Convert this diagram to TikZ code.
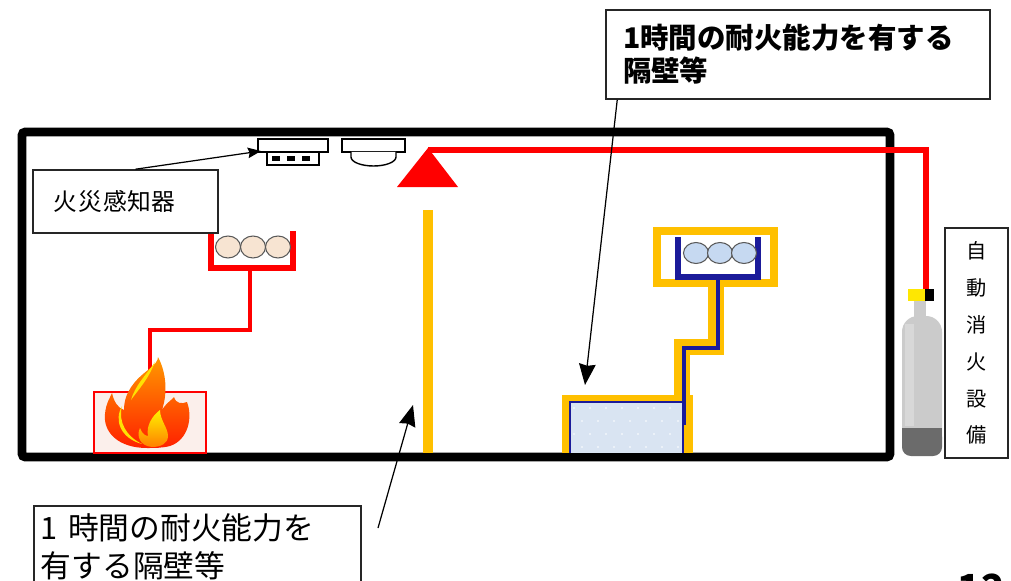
\documentclass[tikz,border=0pt]{standalone}
\usepackage{fontspec}
\newfontfamily\jp{Noto Sans CJK JP}
\usetikzlibrary{arrows.meta}

\definecolor{wallgold}{HTML}{FFC000}
\definecolor{pipered}{HTML}{FF0000}
\definecolor{pipeblue}{HTML}{1B1B9A}
\definecolor{headpeach}{HTML}{F7E4D2}
\definecolor{headblue}{HTML}{C6D9F1}
\definecolor{tankfill}{HTML}{D9E4F2}
\definecolor{firebg}{HTML}{FBEFEB}
\definecolor{gaslight}{HTML}{CBCBCB}
\definecolor{gasdark}{HTML}{6B6B6B}

\tikzset{
  labelbox/.style={draw=black!85, line width=0.9pt, fill=white, inner ysep=0pt},
  callout/.style={-{Stealth[length=12pt, width=9.5pt, inset=1pt]}, line width=0.7pt},
  smallcallout/.style={-{Stealth[length=7.5pt, width=6pt, inset=1pt]}, line width=0.7pt},
  headball/.style={draw=black!65, line width=0.6pt},
}

\begin{document}
\begin{tikzpicture}[x=0.02cm, y=-0.02cm]

  % ── frame: 1011 x 581 px, y runs downwards ──────────────────────────────
  \useasboundingbox (0,0) rectangle (1011,581);

  % ── room walls ───────────────────────────────────────────────────────────
  \draw[line width=5.1pt, rounded corners=2pt] (22,132) rectangle (890,457);

  % ── fire-rated partition ─────────────────────────────────────────────────
  \draw[wallgold, line width=5.7pt] (428,210) -- (428,453);

  % ── ceiling detectors ────────────────────────────────────────────────────
  \draw[line width=0.8pt, fill=white] (258,139) rectangle (328,152);
  \draw[line width=0.8pt, fill=white] (267,152) rectangle (319,165);
  \foreach \x in {276,291,306}
    \fill (\x-4,156) rectangle (\x+4,161);
  \draw[line width=0.8pt, fill=white] (342,139) rectangle (405,152);
  \draw[line width=0.8pt, fill=white]
    (351,152) -- (351,157) arc[start angle=180, end angle=360, x radius=22.5, y radius=-9] -- (396,152);

  % ── supply pipe from the cylinder to the discharge nozzle ────────────────
  \draw[pipered, line width=3.4pt] (428,150) -- (926,150) -- (926,292);
  \fill[pipered] (428,148) -- (458,187) -- (397,187) -- cycle;

  % ── extinguisher cylinder ────────────────────────────────────────────────
  \fill[gaslight] (914,299) rectangle (926,320);
  \fill[gaslight, rounded corners=9pt] (902,455) -- (902,316) -- (942,316) -- (942,455) -- cycle;
  \fill[white, opacity=0.25] (905,324) rectangle (914,426);
  \fill[gasdark, rounded corners=5pt] (902,428) -- (902,456) -- (942,456) -- (942,428) -- cycle;
  \fill[gasdark] (902,428) rectangle (942,436);
  \fill[yellow!90!orange] (908,289) rectangle (926,301);
  \fill[black] (925,289) rectangle (934,301);

  % ── fire with its sprinkler head on the left ─────────────────────────────
  \draw[pipered, line width=2pt] (250,268) -- (250,330) -- (150,330) -- (150,372);
  \draw[pipered, line width=3.8pt] (211,231) -- (211,268) -- (293,268) -- (293,231);
  \foreach \x in {228,253,278}
    \draw[headball, fill=headpeach] (\x,247) ellipse[x radius=12.5, y radius=11];

  \draw[pipered, line width=0.9pt, fill=firebg] (94,392) rectangle (206,453);
  \shade[top color=orange!80!yellow, bottom color=red!75!orange]
    (147,448) .. controls (118,448) and (103,432) .. (105,414)
    .. controls (106,403) and (110,398) .. (112,393)
    .. controls (114,402) and (118,408) .. (124,410)
    .. controls (124,392) and (135,380) .. (148,370)
    .. controls (156,364) and (158,360) .. (158,357)
    .. controls (166,372) and (168,392) .. (162,410)
    .. controls (167,402) and (172,400) .. (174,397)
    .. controls (176,404) and (182,404) .. (187,402)
    .. controls (193,418) and (188,440) .. (170,446)
    .. controls (162,448) and (155,448) .. (147,448) -- cycle;
  % yellow streak along the left edge
  \fill[yellow!85!orange]
    (142,444) .. controls (120,438) and (114,420) .. (122,406)
    .. controls (118,422) and (126,436) .. (142,444) -- cycle;
  \fill[yellow!85!orange]
    (131,400) .. controls (135,386) and (145,376) .. (155,362)
    .. controls (148,380) and (138,390) .. (131,400) -- cycle;
  % small inner flame
  \shade[top color=yellow!90!orange, bottom color=orange]
    (152,447) .. controls (140,446) and (136,436) .. (140,428)
    .. controls (142,434) and (146,436) .. (148,436)
    .. controls (146,426) and (152,416) .. (160,410)
    .. controls (160,420) and (168,428) .. (168,436)
    .. controls (168,444) and (160,447) .. (152,447) -- cycle;

  % ── tank and protected head on the right ─────────────────────────────────
  \draw[wallgold, line width=4.6pt] (657,231) rectangle (774,283);
  \draw[wallgold, line width=9pt] (716,283) -- (716,347) -- (682,347) -- (682,400);
  \fill[wallgold] (562,395) rectangle (693,453);
  \fill[tankfill] (570,402) rectangle (683,453);
  \begin{scope}
    \clip (570,402) rectangle (683,453);
    \foreach \i in {0,...,7}
      \foreach \j in {0,...,3}
        \fill[white] ({574+\i*16+mod(\j,2)*8},{408+\j*13}) circle (0.9);
  \end{scope}
  \draw[pipeblue, line width=1pt] (570,453) -- (570,402) -- (683,402) -- (683,453);
  \draw[pipeblue, line width=2.3pt] (718,277) -- (718,348) -- (684,348) -- (684,425);
  \draw[pipeblue, line width=3.8pt] (678,237) -- (678,277) -- (758,277) -- (758,237);
  \foreach \x in {696,720,744}
    \draw[headball, fill=headblue] (\x,253) ellipse[x radius=12.5, y radius=10.5];

  % ── labels ───────────────────────────────────────────────────────────────
  \node[labelbox, minimum width=3.7cm, minimum height=1.26cm, text width=2.9cm,
        inner xsep=0.4cm, align=left, font=\jp\fontsize{13.5}{16}\selectfont]
    (fdlabel) at (125.5,201.5) {火\kern1pt 災\kern1pt 感知器};

  \node[labelbox, minimum width=7.68cm, minimum height=1.78cm, text width=7.0cm,
        inner xsep=0.34cm, align=left, font=\jp\bfseries\fontsize{16.2}{18.7}\selectfont]
    (partlabel) at (798,54.5) {1時間の耐火能力を有する\\隔壁等};

  \node[labelbox, anchor=north west, text width=6.26cm, inner xsep=0.14cm,
        inner ysep=0.16cm, align=left, font=\jp\fontsize{17.5}{21.5}\selectfont]
    (partnote) at (33,505) {1 時間の耐火能力を\\有する隔壁等};

  \node[labelbox, minimum width=1.26cm, minimum height=4.6cm, align=center,
        font=\jp\fontsize{11.5}{21}\selectfont]
    (extlabel) at (976.5,343) {自\\動\\消\\火\\設\\備};

  \node[font=\jp\bfseries\fontsize{22}{26}\selectfont, anchor=north] (pagenum) at (981,568) {12};

  % ── callouts ─────────────────────────────────────────────────────────────
  \coordinate (det1) at (261,151);
  \coordinate (tankhead) at (585,385);
  \coordinate (notefoot) at (378,528);
  \coordinate (walltip) at (413,405);

  \draw[smallcallout] ([xshift=0.2cm]fdlabel.north) -- (det1);
  \draw[callout] ([xshift=0.24cm]partlabel.south west) -- (tankhead);
  \draw[callout] (notefoot) -- (walltip);

\end{tikzpicture}
\end{document}
